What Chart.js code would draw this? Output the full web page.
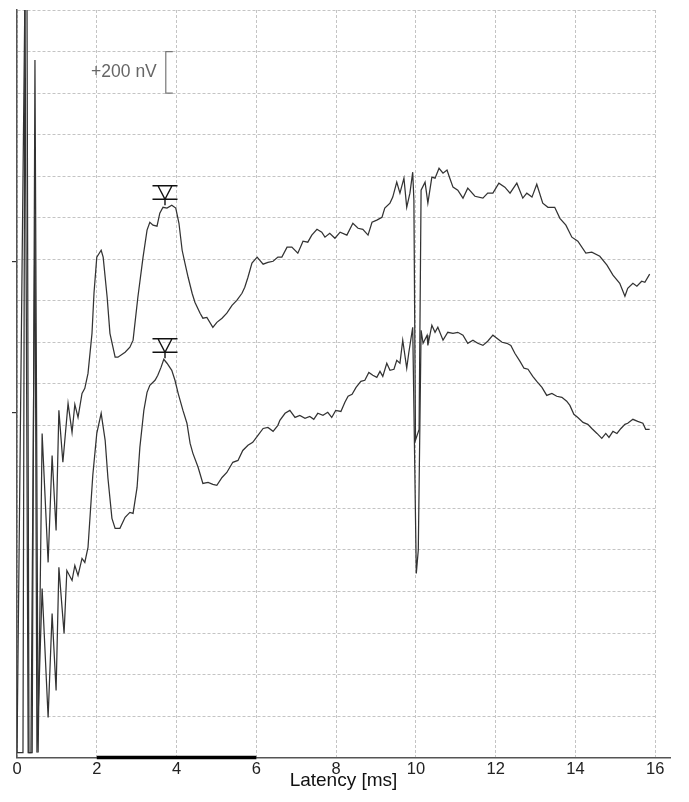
<!DOCTYPE html>
<html>
<head>
<meta charset="utf-8">
<script src="https://cdn.jsdelivr.net/npm/chart.js@4.4.1/dist/chart.umd.min.js"></script>
<style>
html,body{margin:0;padding:0;background:#fff;}
#wrap{position:relative;width:689px;height:802px;}
</style>
</head>
<body>
<div id="wrap"><canvas id="c"></canvas></div>
<script>
// ---- data (latency in ms, amplitude in nV on the plot's vertical scale) ----
const timesA = [0,0.20,0.25,0.30,0.38,0.45,0.53,0.63,0.78,0.88,0.98,1.05,1.15,1.28,1.38,1.45,1.53,1.63,1.70,1.78,1.88,1.93,2.00,2.11,2.16,2.26,2.33,2.46,2.53,2.71,2.83,2.91,3.03,3.16,3.26,3.33,3.41,3.51,3.58,3.66,3.76,3.88,3.98,4.06,4.14,4.21,4.29,4.39,4.46,4.59,4.66,4.76,4.91,5.01,5.14,5.26,5.39,5.51,5.64,5.71,5.79,5.89,6.02,6.17,6.29,6.42,6.54,6.64,6.77,6.89,7.04,7.17,7.29,7.39,7.52,7.64,7.72,7.84,7.97,8.10,8.27,8.42,8.55,8.67,8.80,8.90,9.02,9.15,9.22,9.35,9.42,9.52,9.60,9.70,9.77,9.85,9.92,9.95,9.99,10.08,10.13,10.23,10.30,10.40,10.48,10.58,10.68,10.78,10.85,10.93,11.05,11.18,11.30,11.48,11.68,11.80,11.93,12.08,12.23,12.36,12.53,12.68,12.78,12.91,13.03,13.18,13.31,13.48,13.61,13.76,13.91,14.06,14.26,14.41,14.61,14.79,14.94,15.11,15.24,15.31,15.44,15.54,15.66,15.74,15.86];
const valuesA = [24,3700,3700,24,24,3359,24,1561,940,1455,1094,1672,1422,1706,1566,1701,1638,1754,1778,1850,2043,2236,2410,2443,2410,2217,2043,1928,1928,1952,1976,2010,2217,2410,2540,2578,2564,2559,2622,2650,2646,2660,2646,2573,2443,2381,2313,2236,2193,2140,2116,2120,2072,2096,2116,2140,2178,2202,2236,2265,2313,2381,2410,2376,2385,2390,2410,2410,2458,2458,2429,2487,2482,2516,2544,2530,2506,2525,2501,2530,2516,2573,2549,2544,2516,2578,2588,2602,2646,2670,2699,2771,2718,2790,2650,2718,2819,2684,1528,1580,2732,2771,2670,2795,2790,2838,2814,2829,2790,2747,2732,2694,2742,2703,2694,2718,2718,2766,2747,2718,2766,2694,2718,2699,2761,2670,2650,2650,2597,2564,2506,2487,2429,2434,2414,2371,2323,2284,2222,2260,2284,2270,2294,2289,2328];

const timesB = [0,0.15,0.20,0.28,0.35,0.45,0.50,0.63,0.78,0.88,0.98,1.05,1.18,1.25,1.38,1.45,1.53,1.63,1.70,1.78,1.90,2.00,2.11,2.21,2.28,2.38,2.46,2.58,2.71,2.83,2.91,3.01,3.08,3.18,3.26,3.33,3.46,3.53,3.61,3.68,3.76,3.88,3.96,4.04,4.16,4.26,4.34,4.41,4.54,4.66,4.79,4.91,5.01,5.14,5.26,5.41,5.54,5.66,5.79,5.91,6.04,6.17,6.29,6.42,6.54,6.59,6.72,6.84,6.97,7.09,7.22,7.34,7.44,7.54,7.67,7.79,7.89,7.99,8.12,8.22,8.30,8.40,8.50,8.62,8.72,8.82,8.92,9.02,9.10,9.17,9.27,9.35,9.45,9.52,9.60,9.67,9.77,9.82,9.92,9.95,10.01,10.06,10.13,10.18,10.28,10.30,10.40,10.48,10.55,10.68,10.80,10.93,11.05,11.18,11.30,11.43,11.55,11.68,11.80,11.93,12.03,12.16,12.28,12.38,12.48,12.61,12.71,12.81,12.93,13.03,13.16,13.28,13.41,13.53,13.66,13.78,13.86,13.96,14.06,14.19,14.31,14.41,14.54,14.66,14.76,14.84,14.94,15.04,15.14,15.24,15.31,15.44,15.56,15.69,15.76,15.86];
const valuesB = [24,24,3700,24,24,2607,24,814,193,694,323,916,598,901,853,925,877,959,940,1012,1359,1561,1658,1528,1345,1152,1104,1104,1157,1181,1176,1301,1494,1672,1759,1793,1817,1841,1879,1918,1899,1865,1817,1754,1672,1610,1513,1465,1398,1320,1325,1316,1311,1349,1373,1422,1431,1479,1504,1518,1552,1585,1590,1571,1600,1624,1658,1672,1638,1648,1634,1643,1629,1658,1648,1663,1638,1672,1667,1711,1740,1749,1783,1812,1817,1855,1841,1831,1860,1836,1899,1865,1870,1913,1899,2010,1875,1947,2072,1687,887,1000,2058,1995,2034,1985,2082,2048,2072,2010,2048,2043,2048,2034,1995,2010,1995,1985,2005,2034,2019,2000,1995,1985,1947,1908,1875,1870,1836,1812,1783,1744,1754,1740,1735,1716,1696,1653,1638,1614,1605,1585,1561,1537,1561,1542,1571,1561,1585,1605,1610,1629,1619,1610,1581,1581];

const xTickValues = [0, 2, 4, 6, 8, 10, 12, 14, 16];
const gridEndTime = 16;                    // grid stops at the last tick; axis line runs on
const baselines = [2390, 1663];            // per-trace baseline marks on the left axis
const markerTimes = [3.71, 3.71];          // wave V markers
const markerValues = [2660, 1923];
const analysisWindow = [2, 6];             // bold bar on the latency axis
const scaleBarTime = 3.73;
const scaleBarRange = [3200, 3400];
const scaleBarLabel = '+200 nV';
const xTitle = 'Latency [ms]';

const FONT = '"Liberation Sans", Arial, Helvetica, sans-serif';

const gridTrim = {
  id: 'gridTrim',
  beforeDatasetsDraw(chart) {
    const {ctx, chartArea, scales: {x}} = chart;
    const gx = x.getPixelForValue(gridEndTime) + 1;
    ctx.save();
    ctx.fillStyle = '#fff';
    ctx.fillRect(gx, chartArea.top - 2, chartArea.right - gx + 2, chartArea.bottom - chartArea.top + 1);
    ctx.restore();
  }
};

const overlay = {
  id: 'overlay',
  afterDraw(chart) {
    const {ctx, scales: {x, y}} = chart;
    ctx.save();
    // wave markers
    ctx.strokeStyle = '#111';
    ctx.lineWidth = 1.4;
    markerTimes.forEach((t, i) => {
      const px = x.getPixelForValue(t);
      const py = y.getPixelForValue(markerValues[i]);
      const b = py - 6, tp = b - 13.5;
      ctx.beginPath();
      ctx.moveTo(px, py); ctx.lineTo(px, b);
      ctx.moveTo(px - 12.5, b); ctx.lineTo(px + 12.5, b);
      ctx.moveTo(px - 12.5, tp); ctx.lineTo(px + 12.5, tp);
      ctx.moveTo(px - 7, tp); ctx.lineTo(px, b); ctx.lineTo(px + 7, tp);
      ctx.stroke();
    });
    // amplitude scale bar
    const sx = x.getPixelForValue(scaleBarTime);
    const sy1 = y.getPixelForValue(scaleBarRange[1]);
    const sy0 = y.getPixelForValue(scaleBarRange[0]);
    ctx.strokeStyle = '#777';
    ctx.lineWidth = 1.2;
    ctx.beginPath();
    ctx.moveTo(sx + 7, sy1); ctx.lineTo(sx, sy1); ctx.lineTo(sx, sy0); ctx.lineTo(sx + 7, sy0);
    ctx.stroke();
    ctx.fillStyle = '#666';
    ctx.font = '17.5px ' + FONT;
    ctx.textAlign = 'right';
    ctx.textBaseline = 'middle';
    ctx.fillText(scaleBarLabel, sx - 9, (sy0 + sy1) / 2);
    // analysis window bar
    const ax0 = x.getPixelForValue(analysisWindow[0]);
    const ax1 = x.getPixelForValue(analysisWindow[1]);
    const ay = y.getPixelForValue(0);
    ctx.strokeStyle = '#000';
    ctx.lineWidth = 3.5;
    ctx.beginPath();
    ctx.moveTo(ax0, ay); ctx.lineTo(ax1, ay);
    ctx.stroke();
    ctx.restore();
  }
};

new Chart(document.getElementById('c'), {
  type: 'line',
  data: {
    datasets: [
      { label: 'Trace 1', data: timesA.map((t, i) => ({x: t, y: valuesA[i]})),
        borderColor: '#333', borderWidth: 1.25, pointRadius: 0, tension: 0, fill: false },
      { label: 'Trace 2', data: timesB.map((t, i) => ({x: t, y: valuesB[i]})),
        borderColor: '#333', borderWidth: 1.25, pointRadius: 0, tension: 0, fill: false }
    ]
  },
  options: {
    responsive: true,
    maintainAspectRatio: false,
    animation: false,
    events: [],
    layout: { padding: { left: 12, top: 10, right: 19, bottom: 0 } },
    plugins: { legend: { display: false }, tooltip: { enabled: false } },
    scales: {
      x: {
        type: 'linear', min: 0, max: 16.37,
        afterBuildTicks: s => { s.ticks = xTickValues.map(v => ({value: v})); },
        ticks: { padding: 2, color: '#222', maxRotation: 0, autoSkip: false,
                 font: { family: FONT, size: 16.5 }, callback: v => String(v) },
        grid: { color: '#c4c4c4', lineWidth: 1, drawTicks: false },
        border: { display: true, color: '#555', width: 1.5, dash: [3, 2] },
        title: { display: true, text: xTitle, color: '#111',
                 font: { family: FONT, size: 19 }, padding: { top: -12.3, bottom: 10.1 } }
      },
      y: {
        type: 'linear', min: 0, max: 3600, position: 'left', weight: 0,
        ticks: { display: false, stepSize: 200 },
        grid: { color: '#c4c4c4', lineWidth: 1, drawTicks: false },
        border: { display: true, color: '#555', width: 1.5, dash: [3, 2] }
      },
      y2: {
        type: 'linear', min: 0, max: 3600, position: 'left', weight: 10,
        afterBuildTicks: s => { s.ticks = baselines.map(v => ({value: v})); },
        ticks: { display: false },
        grid: { drawOnChartArea: false, drawTicks: true, tickLength: 5, color: '#333', lineWidth: 1.2 },
        border: { display: false }
      }
    }
  },
  plugins: [gridTrim, overlay]
});
</script>
</body>
</html>
